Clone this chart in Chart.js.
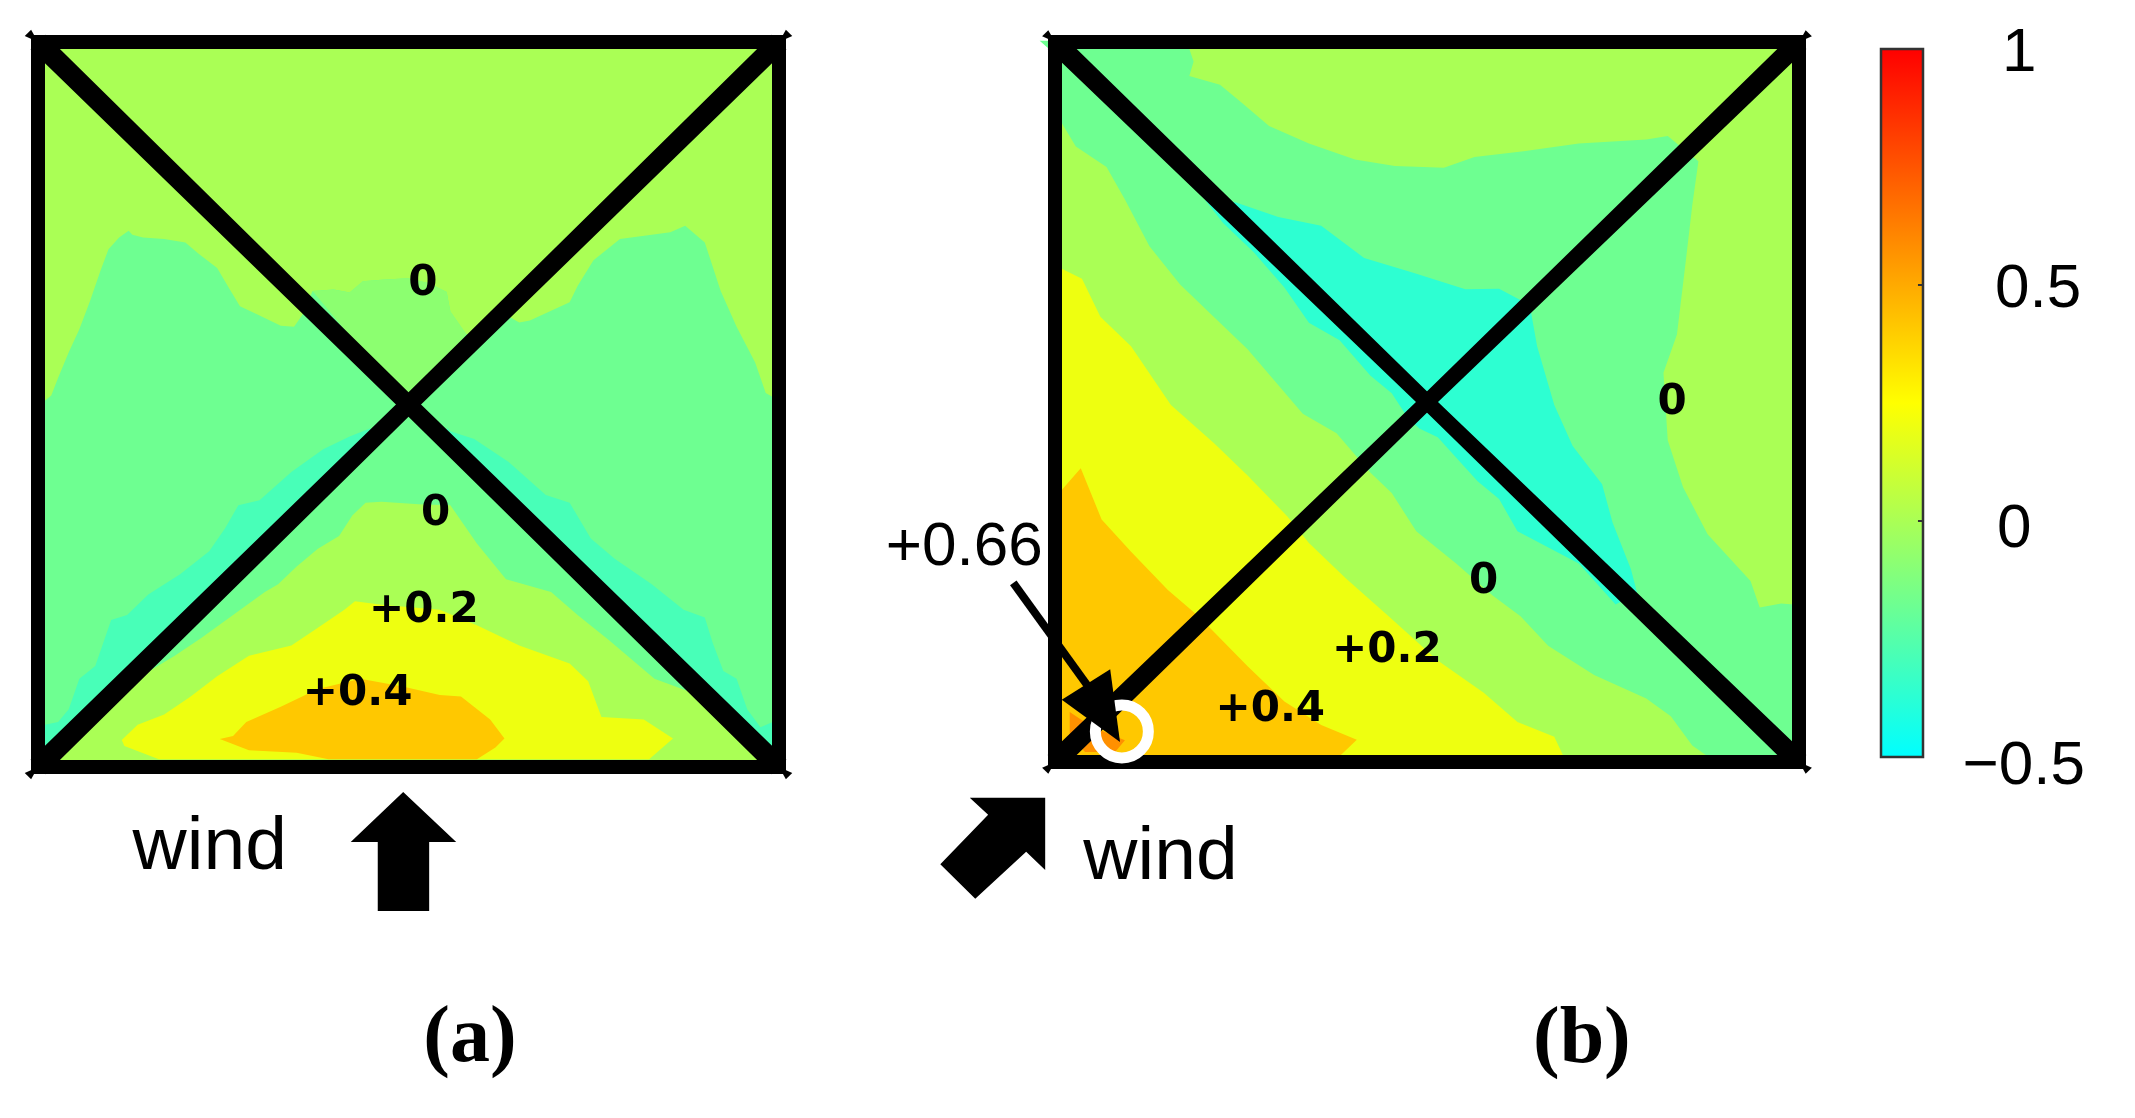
<!DOCTYPE html>
<html>
<head>
<meta charset="utf-8">
<title>Wind pressure on roof</title>
<script src="https://cdn.jsdelivr.net/npm/chart.js@4"></script>
<style>
  html, body { margin: 0; padding: 0; background: #fff; }
  canvas { display: block; }
</style>
</head>
<body>
<canvas id="myChart" width="2135" height="1118"></canvas>
<script>
// roof side lengths, one unit is a small fraction of the roof
const roofAWidth = 1398;
const roofAHeight = 1421;
const roofBWidth = 1213;
const roofBHeight = 1226;

// panel (a) contour regions, wind from the bottom
const aRoofMid = [[13,718],[25,728],[38,763],[58,813],[78,858],[98,913],[118,973],[133,1015],[153,1038],[171,1051],[178,1043],[198,1038],[238,1035],[278,1028],[303,1006],[338,978],[358,943],[381,903],[418,885],[458,865],[483,863],[498,885],[518,933],[558,936],[588,930],[613,952],[648,955],[698,958],[738,948],[771,931],[778,893],[808,848],[828,853],[888,883],[908,871],[928,875],[1003,911],[1018,943],[1048,993],[1098,1035],[1193,1048],[1221,1061],[1258,1028],[1288,933],[1318,863],[1353,793],[1373,733],[1386,725],[1398,725],[1398,0],[0,0],[0,718]];
const aRoofUpper = [[518,933],[558,936],[588,930],[613,952],[648,955],[698,958],[738,948],[771,931],[778,893],[808,848],[698,708]];
const aAquaLeft = [[0,70],[13,83],[38,88],[58,113],[78,173],[108,198],[123,243],[138,288],[168,298],[208,338],[268,378],[323,423],[353,468],[378,513],[418,523],[478,578],[538,623],[588,648],[627,664],[640,650],[0,0]];
const aAquaRight = [[772,664],[778,658],[823,643],[888,598],[958,533],[1003,518],[1043,448],[1088,408],[1158,358],[1218,308],[1258,293],[1273,243],[1293,188],[1318,173],[1338,113],[1363,78],[1386,88],[1398,88],[1398,0],[758,650]];
const aLight = [[18,13],[58,63],[133,123],[168,158],[218,193],[258,218],[308,253],[368,298],[428,343],[453,358],[488,393],[528,428],[568,453],[593,493],[618,518],[648,520],[718,515],[778,513],[828,438],[883,368],[968,343],[1018,298],[1078,248],[1163,173],[1228,148],[1348,33],[1360,12],[18,12]];
const aYellow = [[158,53],[188,83],[238,103],[288,138],[338,178],[398,218],[478,238],[528,273],[578,308],[598,325],[648,318],[758,308],[828,278],[908,238],[1003,203],[1038,168],[1063,98],[1143,93],[1198,56],[1153,15],[228,15],[163,41]];
const aOrange = [[343,55],[368,61],[393,88],[458,118],[528,153],[608,173],[688,158],[758,141],[798,138],[853,93],[880,56],[863,38],[828,15],[548,15],[488,28],[398,33]];
const aWindArrow = [[689,-49],[789,-147],[738,-147],[738,-282],[641,-282],[641,-147],[590,-147]];
const aLabels = ["0", "0", "+0.2", "+0.4"];
const aLabelX = [726, 750, 728, 603];
const aLabelY = [947, 495, 305, 143];

// panel (b) contour regions, wind from the corner
const bRoofMid = [[219,1214],[226,1193],[219,1168],[269,1153],[304,1123],[349,1083],[414,1053],[489,1026],[554,1015],[634,1012],[684,1030],[764,1040],[854,1053],[964,1060],[999,1066],[1049,1023],[1039,948],[1029,858],[1014,728],[992,663],[999,548],[1024,468],[1064,388],[1134,308],[1149,263],[1184,270],[1204,268],[1213,268],[1213,0],[1064,10],[1039,28],[1004,78],[964,108],[879,148],[804,198],[759,248],[714,283],[654,338],[589,393],[549,458],[514,493],[459,560],[404,593],[359,648],[314,703],[254,763],[204,813],[154,878],[114,958],[84,1013],[34,1048],[11,1088],[0,1100],[0,1205],[-25,1228],[219,1226]];
const bCyan = [[244,958],[294,953],[364,928],[434,913],[504,858],[584,833],[669,805],[724,806],[774,778],[786,708],[814,608],[844,538],[892,473],[909,408],[939,328],[949,288],[914,268],[854,338],[754,393],[724,448],[689,478],[624,553],[594,568],[574,588],[549,628],[514,658],[464,718],[414,748],[374,808],[324,868],[274,918]];
const bYellow = [[11,840],[44,823],[74,758],[124,708],[189,608],[259,543],[314,488],[379,418],[414,373],[474,313],[544,248],[624,173],[699,118],[754,68],[814,43],[829,10],[829,0],[0,0],[0,840]];
const bOrange = [[11,463],[42,500],[76,413],[124,358],[184,293],[234,248],[314,163],[374,103],[434,63],[492,38],[464,10],[464,0],[0,0],[0,450]];
const bPeak = [[24,85],[60,60],[114,37],[98,17],[49,17],[24,46]];
const bPeakPoint = [[109,52]];
const bPeakShaft = [[-68,305],[60,120]];
const bPeakHead = [[106,34],[90,158],[11,106]];
const bWindArrow = [[-139,-61],[-16,-61],[-16,-184],[-47,-153],[-130,-233],[-187,-174],[-109,-90]];
const bLabels = ["0", "0", "+0.2", "+0.4"];
const bLabelX = [1006, 699, 541, 351];
const bLabelY = [611, 306, 188, 88];

// colour scale
const scaleStops = [-0.5, 0.25, 1];
const scaleColors = ["rgb(0,255,255)", "rgb(255,255,0)", "rgb(255,0,0)"];
const scaleMarks = [0, 0.5];
const scaleLabels = ["1", "0.5", "0", "\u22120.5"];
const scaleLabelX = [3.29, 3.74, 3.17, 3.40];
const scaleLabelY = [0.989, 0.489, -0.019, -0.521];

const lightGreen = "rgb(170,255,85)";
const midGreen = "rgb(110,255,145)";
const upperGreen = "rgb(140,255,112)";
const aquaGreen = "rgb(72,255,184)";
const cyanGreen = "rgb(45,255,210)";
const yellow = "rgb(238,255,16)";
const orange = "rgb(255,200,0)";
const darkOrange = "rgb(255,144,0)";

const W = 2135;
const H = 1118;

function xRange(pxLeft, pxRight, span) {
  const u = span / (pxRight - pxLeft);
  return { type: "linear", display: false, min: -pxLeft * u, max: (W - pxLeft) * u };
}
function yRange(pxBottom, pxTop, span, low) {
  const u = span / (pxBottom - pxTop);
  return { type: "linear", display: false, min: low - (H - pxBottom) * u, max: low + pxBottom * u };
}

function points(list) {
  return list.map(function (p) { return { x: p[0], y: p[1] }; });
}
function area(list, color, xId, yId) {
  return { data: points(list), xAxisID: xId, yAxisID: yId, showLine: true, fill: "shape",
    backgroundColor: color, borderWidth: 0, pointRadius: 0 };
}
function stroke(list, color, width, xId, yId) {
  return { data: points(list), xAxisID: xId, yAxisID: yId, showLine: true, fill: false,
    borderColor: color, borderWidth: width, pointRadius: 0, borderJoinStyle: "miter" };
}
function box(w, h) {
  return [[0, 0], [w, 0], [w, h], [0, h], [0, 0], [w, 0]];
}
// the diagonals are a bit thicker at the corners than at the crossing
function rising(w, h, e, m) {
  return [[-e, e], [w / 2 - m, h / 2 + m], [w - e, h + e], [w + e, h - e], [w / 2 + m, h / 2 - m], [e, -e]];
}
function falling(w, h, e, m) {
  return [[e, h + e], [w / 2 + m, h / 2 + m], [w + e, e], [w - e, -e], [w / 2 - m, h / 2 - m], [-e, h - e]];
}
function cornerTips(w, h, ux, uy) {
  return [[0, 0], [w, 0], [w, h], [0, h]].map(function (c) {
    const sx = c[0] ? 1 : -1;
    const sy = c[1] ? 1 : -1;
    return [c, [c[0] + sx * ux * 0.52, c[1] + sy * uy], [c[0] + sx * ux, c[1] + sy * uy * 0.5]];
  });
}

const xa = "xa", ya = "ya", xb = "xb", yb = "yb", xc = "xc", yc = "yc";

const datasets = [
  area(box(roofAWidth, roofAHeight), lightGreen, xa, ya),
  area(aRoofMid, midGreen, xa, ya),
  area(aRoofUpper, upperGreen, xa, ya),
  area(aAquaLeft, aquaGreen, xa, ya),
  area(aAquaRight, aquaGreen, xa, ya),
  area(aLight, lightGreen, xa, ya),
  area(aYellow, yellow, xa, ya),
  area(aOrange, orange, xa, ya),
  area(rising(roofAWidth, roofAHeight, 14, 12), "#000", xa, ya),
  area(falling(roofAWidth, roofAHeight, 14, 12), "#000", xa, ya),
  stroke(box(roofAWidth, roofAHeight), "#000", 14, xa, ya),
  area(aWindArrow, "#000", xa, ya),

  area(box(roofBWidth, roofBHeight), lightGreen, xb, yb),
  area(bRoofMid, midGreen, xb, yb),
  area(bCyan, cyanGreen, xb, yb),
  area(bYellow, yellow, xb, yb),
  area(bOrange, orange, xb, yb),
  area(bPeak, darkOrange, xb, yb),
  area(rising(roofBWidth, roofBHeight, 12, 9), "#000", xb, yb),
  area(falling(roofBWidth, roofBHeight, 12, 9), "#000", xb, yb),
  stroke(box(roofBWidth, roofBHeight), "#000", 14, xb, yb),
  { data: points(bPeakPoint), xAxisID: xb, yAxisID: yb, showLine: false, pointRadius: 26.5,
    pointBorderWidth: 11, pointBorderColor: "#fff", pointBackgroundColor: "rgba(0,0,0,0)" },
  stroke(bPeakShaft, "#000", 8, xb, yb),
  area(bPeakHead, "#000", xb, yb),
  area(bWindArrow, "#000", xb, yb),

  area([[0, -0.5], [1, -0.5], [1, 1], [0, 1]], function (ctx) {
    const chart = ctx.chart;
    const s = chart.scales.yc;
    if (!s || !chart.chartArea) return "#000";
    const g = chart.ctx.createLinearGradient(0, s.getPixelForValue(-0.5), 0, s.getPixelForValue(1));
    scaleStops.forEach(function (v, i) { g.addColorStop((v + 0.5) / 1.5, scaleColors[i]); });
    return g;
  }, xc, yc),
  stroke([[0, -0.5], [1, -0.5], [1, 1], [0, 1], [0, -0.5], [1, -0.5]], "#333", 2.5, xc, yc)
];
scaleMarks.forEach(function (v) {
  datasets.push(stroke([[0.88, v], [1, v]], "#333", 2, xc, yc));
});
cornerTips(roofAWidth, roofAHeight, 25, 24).forEach(function (t) {
  datasets.push(area(t, "#000", xa, ya));
});
cornerTips(roofBWidth, roofBHeight, 21, 20).forEach(function (t) {
  datasets.push(area(t, "#000", xb, yb));
});
datasets.forEach(function (d, i) { d.order = -i; });

const contourFont = 'bold 42px "DejaVu Sans"';
const scaleFont = '62px "Liberation Sans"';
const windFont = '75px "Liberation Sans"';
const peakFont = '62px "Liberation Sans"';
const panelFont = 'bold 80px "Liberation Serif"';

const texts = [];
aLabels.forEach(function (t, i) { texts.push([t, aLabelX[i], aLabelY[i], xa, ya, contourFont]); });
bLabels.forEach(function (t, i) { texts.push([t, bLabelX[i], bLabelY[i], xb, yb, contourFont]); });
scaleLabels.forEach(function (t, i) { texts.push([t, scaleLabelX[i], scaleLabelY[i], xc, yc, scaleFont]); });
texts.push(["wind", 324, -159, xa, ya, windFont]);
texts.push(["wind", 172, -164, xb, yb, windFont]);
texts.push(["+0.66", -148, 364, xb, yb, peakFont]);
texts.push(["(a)", 815, -536, xa, ya, panelFont]);
texts.push(["(b)", 859, -475, xb, yb, panelFont]);

const textPlugin = {
  id: "textPlugin",
  afterDatasetsDraw: function (chart) {
    const c = chart.ctx;
    c.save();
    c.fillStyle = "#000";
    c.textAlign = "center";
    c.textBaseline = "middle";
    texts.forEach(function (t) {
      c.font = t[5];
      c.fillText(t[0], chart.scales[t[3]].getPixelForValue(t[1]), chart.scales[t[4]].getPixelForValue(t[2]));
    });
    c.restore();
  }
};

const config = {
  type: "scatter",
  data: { datasets: datasets },
  plugins: [textPlugin],
  options: {
    responsive: false,
    animation: false,
    events: [],
    layout: { padding: 0, autoPadding: false },
    elements: { line: { tension: 0 } },
    plugins: {
      legend: { display: false },
      tooltip: { enabled: false },
      filler: { propagate: false }
    },
    scales: {
      xa: xRange(38, 779, roofAWidth),
      ya: yRange(767, 42, roofAHeight, 0),
      xb: xRange(1055, 1799, roofBWidth),
      yb: yRange(762, 42, roofBHeight, 0),
      xc: xRange(1881, 1923, 1),
      yc: yRange(757, 49, 1.5, -0.5)
    }
  }
};

const myChart = new Chart(document.getElementById("myChart").getContext("2d"), config);
</script>
</body>
</html>
